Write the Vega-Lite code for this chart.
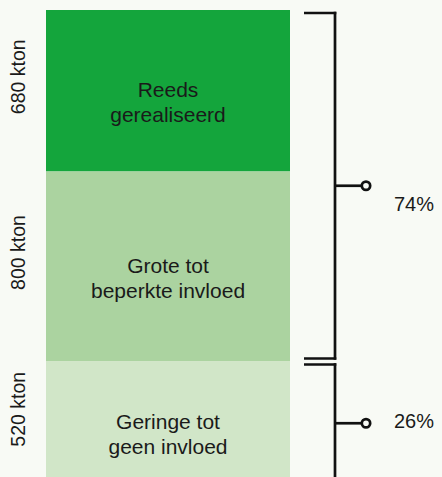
{
  "$schema": "https://vega.github.io/schema/vega-lite/v6.json",
  "width": 442,
  "height": 477,
  "autosize": "none",
  "padding": 0,
  "background": "#f8faf5",
  "config": {"view": {"stroke": null}, "font": "Liberation Sans", "axis": {"disable": true}},
  "datasets": {
    "segmenten": [
      {"categorie": "Reeds\ngerealiseerd", "kton": 680, "volgorde": 1},
      {"categorie": "Grote tot\nbeperkte invloed", "kton": 800, "volgorde": 2},
      {"categorie": "Geringe tot\ngeen invloed", "kton": 520, "volgorde": 3}
    ],
    "groepen": [
      {"aandeel": "74%", "van": 0, "tot": 1480},
      {"aandeel": "26%", "van": 1480, "tot": 2000}
    ]
  },
  "layer": [
    {
      "data": {"name": "segmenten"},
      "transform": [
        {"stack": "kton", "groupby": [], "sort": [{"field": "volgorde"}], "as": ["y0", "y1"]}
      ],
      "mark": {"type": "rect"},
      "encoding": {
        "x": {"datum": 46, "type": "quantitative", "scale": {"domain": [0, 442], "nice": false, "zero": false}, "axis": null},
        "x2": {"datum": 290},
        "y": {"field": "y0", "type": "quantitative", "scale": {"domain": [0, 2000], "range": [10, 485], "nice": false}, "axis": null},
        "y2": {"field": "y1"},
        "color": {"field": "categorie", "type": "nominal", "legend": null,
          "scale": {"domain": ["Reeds\ngerealiseerd", "Grote tot\nbeperkte invloed", "Geringe tot\ngeen invloed"], "range": ["#14a53c", "#abd3a0", "#d1e6c8"]}}
      }
    },
    {
      "data": {"name": "segmenten"},
      "transform": [
        {"stack": "kton", "groupby": [], "sort": [{"field": "volgorde"}], "as": ["y0", "y1"]},
        {"calculate": "(datum.y0 + datum.y1) / 2", "as": "midden"}
      ],
      "mark": {"type": "text", "align": "center", "baseline": "middle", "fontSize": 21, "lineHeight": 25, "lineBreak": "\n", "color": "#1a1a1a"},
      "encoding": {
        "x": {"datum": 168, "type": "quantitative"},
        "y": {"field": "midden", "type": "quantitative"},
        "text": {"field": "categorie"}
      }
    },
    {
      "data": {"name": "segmenten"},
      "transform": [
        {"stack": "kton", "groupby": [], "sort": [{"field": "volgorde"}], "as": ["y0", "y1"]},
        {"calculate": "(datum.y0 + datum.y1) / 2", "as": "midden"},
        {"calculate": "datum.kton + ' kton'", "as": "label"}
      ],
      "mark": {"type": "text", "align": "center", "baseline": "middle", "angle": 270, "fontSize": 19.5, "color": "#1a1a1a", "yOffset": -14},
      "encoding": {
        "x": {"datum": 19, "type": "quantitative"},
        "y": {"field": "midden", "type": "quantitative"},
        "text": {"field": "label"}
      }
    },
    {
      "data": {"name": "groepen"},
      "mark": {"type": "rule", "color": "#111111", "strokeWidth": 2.7, "strokeCap": "square", "yOffset": 3, "y2Offset": -3},
      "encoding": {
        "x": {"datum": 335, "type": "quantitative"},
        "y": {"field": "van", "type": "quantitative"},
        "y2": {"field": "tot"}
      }
    },
    {
      "data": {"name": "groepen"},
      "mark": {"type": "rule", "color": "#111111", "strokeWidth": 2.7, "yOffset": 3},
      "encoding": {
        "x": {"datum": 304, "type": "quantitative"},
        "x2": {"datum": 336.3},
        "y": {"field": "van", "type": "quantitative"}
      }
    },
    {
      "data": {"name": "groepen"},
      "mark": {"type": "rule", "color": "#111111", "strokeWidth": 2.7, "yOffset": -3},
      "encoding": {
        "x": {"datum": 304, "type": "quantitative"},
        "x2": {"datum": 336.3},
        "y": {"field": "tot", "type": "quantitative"}
      }
    },
    {
      "data": {"name": "groepen"},
      "transform": [{"calculate": "(datum.van + datum.tot) / 2", "as": "midden"}],
      "mark": {"type": "rule", "color": "#111111", "strokeWidth": 2.7},
      "encoding": {
        "x": {"datum": 335, "type": "quantitative"},
        "x2": {"datum": 362},
        "y": {"field": "midden", "type": "quantitative"}
      }
    },
    {
      "data": {"name": "groepen"},
      "transform": [{"calculate": "(datum.van + datum.tot) / 2", "as": "midden"}],
      "mark": {"type": "point", "shape": "circle", "filled": true, "fill": "#f8faf5", "stroke": "#111111", "strokeWidth": 2.7, "size": 70, "opacity": 1},
      "encoding": {
        "x": {"datum": 366, "type": "quantitative"},
        "y": {"field": "midden", "type": "quantitative"}
      }
    },
    {
      "data": {"name": "groepen"},
      "transform": [
        {"filter": "datum.aandeel == '74%'"},
        {"calculate": "(datum.van + datum.tot) / 2", "as": "midden"}
      ],
      "mark": {"type": "text", "align": "left", "baseline": "middle", "fontSize": 20, "color": "#1a1a1a", "dy": 19},
      "encoding": {
        "x": {"datum": 394, "type": "quantitative"},
        "y": {"field": "midden", "type": "quantitative"},
        "text": {"field": "aandeel"}
      }
    },
    {
      "data": {"name": "groepen"},
      "transform": [
        {"filter": "datum.aandeel == '26%'"},
        {"calculate": "(datum.van + datum.tot) / 2", "as": "midden"}
      ],
      "mark": {"type": "text", "align": "left", "baseline": "middle", "fontSize": 20, "color": "#1a1a1a", "dy": -1},
      "encoding": {
        "x": {"datum": 394, "type": "quantitative"},
        "y": {"field": "midden", "type": "quantitative"},
        "text": {"field": "aandeel"}
      }
    }
  ]
}
